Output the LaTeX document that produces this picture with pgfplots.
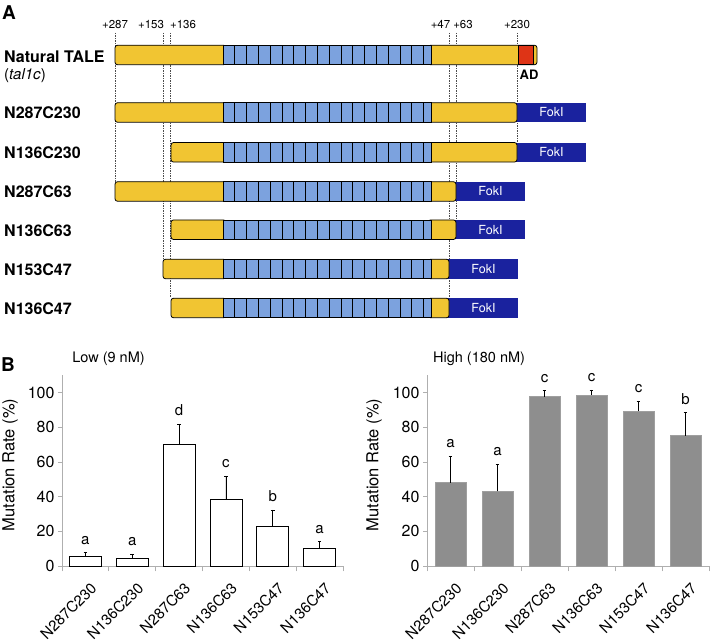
\documentclass[border=0pt]{standalone}
\usepackage{pgfplots}
\pgfplotsset{compat=1.18}
\usepackage{fontspec}
\setmainfont{TeX Gyre Heros}
\definecolor{taleyellow}{RGB}{241,197,50}
\definecolor{repblue}{RGB}{124,162,222}
\definecolor{adred}{RGB}{222,52,22}
\definecolor{fokblue}{RGB}{26,34,158}
\definecolor{bargray}{RGB}{142,142,142}
\definecolor{axgray}{RGB}{175,175,175}
\newcommand{\fs}[1]{\fontsize{#1}{#1}\selectfont}
\def\hh{9.75}
\newcommand{\repeats}[1]{%
  \pgfplotsinvokeforeach{0,...,16}{%
    \draw[line width=0.8pt, fill=repblue] ({223+##1*11.8},{#1-\hh}) rectangle ({223+(##1+1)*11.8},{#1+\hh});
  }%
  \draw[line width=0.8pt, fill=repblue] ({223+17*11.8},{#1-\hh}) rectangle (431,{#1+\hh});
}
\newcommand{\construct}[4]{%
  \fill[fokblue] ({#3-1},{#1-\hh}) rectangle ({#3+69},{#1+\hh});
  \node[text=white, font=\fs{12.5}] at ({#3+34.5},#1) {FokI};
  \draw[line width=0.8pt, fill=taleyellow, rounded corners=2.5pt] (#2,{#1-\hh}) rectangle (226,{#1+\hh});
  \draw[line width=0.8pt, fill=taleyellow, rounded corners=2.5pt] (428,{#1-\hh}) rectangle (#3,{#1+\hh});
  \repeats{#1}
  \node[anchor=west, inner sep=0pt, font=\bfseries\fs{16}] at (4,{#1+0.5}) {#4};
}
\begin{document}
\begin{tikzpicture}
\path[use as bounding box] (0,0) rectangle (711pt,644pt);
% ---------------- Panel A (schematic, pixel coordinates) ----------------
\begin{axis}[at={(0pt,0pt)}, anchor=south west, scale only axis,
  width=711pt, height=644pt, xmin=0, xmax=711, ymin=0, ymax=644,
  y dir=reverse, hide axis, clip=false]
  % dashed guide lines
  \draw[black!70, line width=0.5pt, dash pattern=on 1.5pt off 1pt] (115,33) -- (115,182);
  \draw[black!70, line width=0.5pt, dash pattern=on 1.5pt off 1pt] (163,33) -- (163,259);
  \draw[black!70, line width=0.5pt, dash pattern=on 1.5pt off 1pt] (170,33) -- (170,298);
  \draw[black!70, line width=0.5pt, dash pattern=on 1.5pt off 1pt] (449,33) -- (449,298);
  \draw[black!70, line width=0.5pt, dash pattern=on 1.5pt off 1pt] (456,33) -- (456,220);
  \draw[black!70, line width=0.5pt, dash pattern=on 1.5pt off 1pt] (517,33) -- (517,143);
  % position labels
  \node[anchor=base, inner sep=0pt, font=\fs{11.5}] at (115,28.5) {+287};
  \node[anchor=base, inner sep=0pt, font=\fs{11.5}] at (151,28.5) {+153};
  \node[anchor=base, inner sep=0pt, font=\fs{11.5}] at (183,28.5) {+136};
  \node[anchor=base, inner sep=0pt, font=\fs{11.5}] at (440.5,28.5) {+47};
  \node[anchor=base, inner sep=0pt, font=\fs{11.5}] at (463,28.5) {+63};
  \node[anchor=base, inner sep=0pt, font=\fs{11.5}] at (517,28.5) {+230};
  % panel letters
  \node[anchor=base west, inner sep=0pt, font=\bfseries\fs{19}] at (2,19.5) {A};
  \node[anchor=base west, inner sep=0pt, font=\bfseries\fs{19}] at (1,372) {B};
  % natural TALE
  \draw[line width=0.8pt, fill=taleyellow, rounded corners=2.5pt] (115,{55-\hh}) rectangle (226,{55+\hh});
  \draw[line width=0.8pt, fill=taleyellow, rounded corners=2.5pt] (428,{55-\hh}) rectangle (537,{55+\hh});
  \draw[line width=0.8pt, fill=adred] (518,{55-\hh}) rectangle (533,{55+\hh});
  \repeats{55}
  \node[anchor=base west, inner sep=0pt, font=\bfseries\fs{16}] at (4,63) {Natural TALE};
  \node[anchor=base west, inner sep=0pt, font=\fs{15}] at (4,80) {(\textit{tal1c})};
  \node[anchor=base, inner sep=0pt, font=\bfseries\fs{13}] at (529,80) {AD};
  % constructs
  \construct{112.5}{115}{517}{N287C230}
  \construct{152.3}{171}{517}{N136C230}
  \construct{191.5}{115}{456}{N287C63}
  \construct{229.7}{171}{456}{N136C63}
  \construct{269}{163}{449}{N153C47}
  \construct{308}{171}{449}{N136C47}
\end{axis}
% ---------------- Panel B ----------------
\pgfplotsset{barpanel/.style={
  anchor=south west, scale only axis, height=190.6pt,
  xmin=-0.5, xmax=5.5, ymin=0, ymax=110,
  axis lines=left, axis line style={-, axgray, line width=0.8pt},
  xtick={0,...,5},
  xticklabels={N287C230,N136C230,N287C63,N136C63,N153C47,N136C47},
  major x tick style={draw=none},
  minor xtick={-0.5,0.5,...,5.5},
  ytick={0,20,...,100},
  tick align=outside, major tick length=4pt, minor tick length=5.5pt,
  tick style={axgray, line width=0.8pt},
  /pgf/number format/assume math mode=true,
  yticklabel style={font=\fs{16}},
  xticklabel style={rotate=45, anchor=north east, font=\fs{15}, inner sep=1pt, yshift=-10pt, xshift=-4pt},
  ylabel={Mutation Rate (\%)},
  ylabel style={font=\fs{16.5}, anchor=center},
  title style={font=\fs{14.5}, anchor=base west, inner sep=0pt},
  clip=false,
}}
\begin{axis}[barpanel, at={(62pt,78pt)}, width=281pt,
  ylabel style={at={(axis description cs:-0.185,0.53)}},
  title={Low (9 nM)}, title style={at={(axis description cs:0.036,1.037)}}]
\addplot[ybar, bar width=32pt, fill=white, draw=black, line width=0.8pt,
  error bars/.cd, y dir=plus, y explicit,
  error bar style={black, line width=0.7pt},
  error mark options={rotate=90, mark size=1.8pt, black, line width=0.7pt}]
coordinates {(0,5.3) +- (0,2.3) (1,4.6) +- (0,2.4) (2,70.3) +- (0,11.6)
             (3,38.5) +- (0,13.5) (4,22.7) +- (0,9.7) (5,9.9) +- (0,4.2)};
\addplot[draw=none, nodes near coords, point meta=explicit symbolic,
  every node near coord/.append style={font=\fs{15}, inner sep=0pt, anchor=south, yshift=8pt, text=black}]
coordinates {(0,7.6)[a] (1,7.0)[a] (2,81.9)[d] (3,52.0)[c] (4,32.4)[b] (5,14.1)[a]};
\end{axis}
\begin{axis}[barpanel, at={(427pt,78pt)}, width=282pt,
  ylabel style={at={(axis description cs:-0.188,0.53)}},
  title={High (180 nM)}, title style={at={(axis description cs:0.021,1.037)}}]
\addplot[ybar, bar width=31pt, fill=bargray, draw=bargray!85!white, line width=0.8pt,
  error bars/.cd, y dir=plus, y explicit,
  error bar style={black, line width=0.7pt},
  error mark options={rotate=90, mark size=1.8pt, black, line width=0.7pt}]
coordinates {(0,48.1) +- (0,15.3) (1,43.0) +- (0,15.8) (2,97.6) +- (0,3.6)
             (3,98.6) +- (0,3.0) (4,89.4) +- (0,5.9) (5,75.1) +- (0,13.5)};
\addplot[draw=none, nodes near coords, point meta=explicit symbolic,
  every node near coord/.append style={font=\fs{15}, inner sep=0pt, anchor=south, yshift=8pt, text=black}]
coordinates {(0,63.4)[a] (1,58.8)[a] (2,101.2)[c] (3,101.6)[c] (4,95.3)[c] (5,88.6)[b]};
\end{axis}
\end{tikzpicture}
\end{document}
